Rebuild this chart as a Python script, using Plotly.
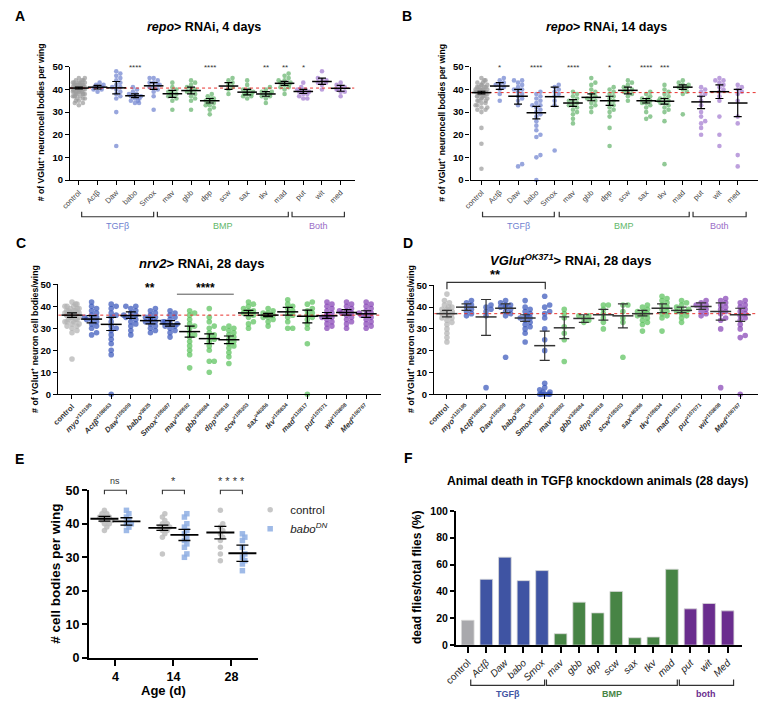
import plotly.graph_objects as go

W, H = 760, 707
FONT = "Arial, Liberation Sans, Helvetica, sans-serif"

# ----------------------------- data -----------------------------
AB_labels = ['control', 'Actβ', 'Daw', 'babo', 'Smox', 'mav', 'gbb', 'dpp', 'scw',
             'sax', 'tkv', 'mad', 'put', 'wit', 'med']
AB_group = ['c', 't', 't', 't', 't', 'b', 'b', 'b', 'b', 'b', 'b', 'b', 'p', 'p', 'p']

A_points = [
    [33, 34, 34, 35, 35, 36, 36, 36, 37, 37, 37, 37, 38, 38, 38, 38, 38, 39, 39, 39, 39, 39, 39,
     40, 40, 40, 40, 40, 40, 40, 41, 41, 41, 41, 41, 41, 41, 42, 42, 42, 42, 42, 42, 43, 43, 43,
     43, 43, 44, 44, 44, 45, 45],
    [39, 40, 40, 41, 41, 41, 42, 42, 43],
    [15, 30, 36, 37, 38, 39, 40, 41, 41, 42, 43, 44, 45, 46, 47, 48],
    [34, 34, 35, 35, 36, 36, 37, 37, 37, 38, 38, 39, 40, 41],
    [31, 37, 39, 40, 41, 41, 42, 42, 43, 43, 44, 45, 45],
    [31, 35, 36, 37, 37, 38, 38, 39, 39, 40, 41, 43],
    [31, 35, 36, 37, 38, 39, 39, 40, 40, 41, 42, 43, 44],
    [29, 31, 32, 33, 33, 34, 34, 35, 35, 36, 36, 37, 38],
    [38, 40, 41, 42, 43, 44, 45],
    [36, 37, 37, 38, 38, 38, 39, 39, 40, 40, 42, 44],
    [34, 36, 37, 37, 38, 38, 39, 39, 40, 41],
    [38, 40, 41, 41, 42, 42, 43, 43, 44, 44, 45, 46, 47],
    [36, 36, 37, 38, 38, 39, 39, 39, 40, 40, 41, 43],
    [40, 42, 43, 43, 44, 44, 45, 48],
    [37, 39, 39, 40, 40, 41, 41, 42, 43],
]
A_mean = [40.6, 41.0, 40.7, 37.2, 41.6, 38.1, 39.5, 35.0, 41.5, 38.8, 38.0, 42.7, 39.1, 43.5, 40.5]
A_lo = [40.2, 40.2, 38.0, 36.4, 40.0, 36.5, 38.0, 34.0, 40.0, 37.6, 37.0, 41.8, 38.2, 42.2, 39.2]
A_hi = [41.0, 41.8, 43.5, 38.0, 43.0, 39.6, 41.0, 36.0, 43.0, 40.0, 39.0, 43.6, 40.0, 45.0, 41.8]
A_stars = {3: '****', 7: '****', 10: '**', 11: '**', 12: '*'}

B_points = [
    [5, 16, 23, 30, 31, 31, 32, 32, 33, 33, 34, 34, 35, 35, 35, 36, 36, 36, 37, 37, 37, 37, 38, 38,
     38, 38, 38, 39, 39, 39, 39, 39, 39, 40, 40, 40, 40, 40, 41, 41, 41, 41, 42, 42, 42, 43, 43,
     44, 44, 45],
    [35, 38, 40, 41, 42, 42, 43, 44, 45],
    [6, 7, 33, 35, 36, 37, 38, 39, 40, 40, 41, 42, 43, 44, 44],
    [0, 10, 11, 19, 20, 22, 24, 26, 28, 29, 30, 31, 32, 33, 33, 34, 35, 36, 37, 38, 39],
    [13, 33, 35, 37, 38, 39, 40, 41, 42],
    [25, 27, 29, 30, 31, 32, 33, 33, 34, 35, 35, 36, 37, 38, 39],
    [30, 32, 33, 34, 35, 36, 36, 37, 38, 39, 40, 42, 43, 45],
    [15, 23, 28, 30, 31, 32, 33, 34, 35, 36, 37, 38, 39, 40, 41],
    [35, 37, 38, 39, 39, 40, 40, 41, 42, 43, 44],
    [27, 28, 30, 32, 33, 34, 34, 35, 35, 36, 36, 37, 38, 39],
    [7, 26, 30, 31, 32, 33, 34, 34, 35, 35, 36, 36, 37, 38, 39, 40, 42],
    [29, 38, 39, 40, 41, 41, 42, 42, 43, 44],
    [20, 23, 25, 26, 28, 30, 33, 35, 37, 38, 39, 40, 41],
    [15, 20, 28, 35, 37, 39, 40, 41, 42, 43, 44, 44, 45],
    [6, 11, 25, 28, 35, 38, 39, 40, 41, 42],
]
B_mean = [38.6, 41.5, 37.0, 29.7, 36.8, 34.0, 36.5, 35.0, 39.6, 35.0, 34.8, 41.0, 34.5, 39.0, 34.0]
B_lo = [38.0, 40.0, 33.5, 27.0, 32.5, 32.5, 35.0, 33.0, 38.0, 34.0, 33.5, 40.0, 31.5, 36.0, 28.0]
B_hi = [39.2, 43.0, 40.0, 32.5, 41.0, 35.5, 38.0, 37.0, 41.0, 36.0, 36.0, 42.0, 37.0, 42.0, 40.0]
B_stars = {1: '*', 3: '****', 5: '****', 7: '*', 9: '****', 10: '***'}

CD_labels = ['control', 'myo', 'Actβ', 'Daw', 'babo', 'Smox', 'mav', 'gbb', 'dpp', 'scw',
             'sax', 'tkv', 'mad', 'put', 'wit', 'Med']
CD_lines = ['', 'v110195', 'v108663', 'v105309', 'v3825', 'v105687', 'v330592', 'v330684',
            'v330518', 'v105303', 'v46356', 'v105834', 'v110517', 'v107071', 'v103808', 'v106767']
CD_group = ['c', 't', 't', 't', 't', 't', 'b', 'b', 'b', 'b', 'b', 'b', 'b', 'p', 'p', 'p']

C_points = [
    [16, 28, 29, 30, 31, 31, 32, 32, 33, 33, 33, 34, 34, 34, 35, 35, 35, 35, 36, 36, 36, 36, 36,
     37, 37, 37, 37, 37, 38, 38, 38, 38, 39, 39, 39, 40, 40, 40, 41, 41, 42],
    [27, 28, 30, 31, 32, 33, 34, 34, 35, 35, 36, 37, 38, 39, 40, 42],
    [0, 18, 20, 23, 25, 27, 29, 30, 31, 33, 35, 36, 37, 39, 40, 41],
    [27, 29, 31, 32, 33, 34, 35, 35, 36, 36, 37, 38, 39, 40, 40],
    [28, 29, 30, 31, 32, 33, 33, 34, 34, 35, 35, 36, 37, 38, 39],
    [26, 28, 29, 30, 31, 31, 32, 32, 33, 33, 34, 35, 36, 37, 38],
    [12, 18, 20, 22, 24, 26, 27, 28, 30, 31, 32, 34, 36, 37, 38],
    [10, 15, 15, 20, 22, 24, 25, 26, 27, 28, 30, 31, 33, 35, 39],
    [14, 17, 19, 21, 22, 23, 24, 25, 26, 27, 28, 29, 30, 30, 31],
    [30, 32, 33, 35, 36, 37, 37, 38, 38, 39, 40, 41, 42],
    [31, 33, 34, 35, 35, 36, 36, 37, 37, 38, 39],
    [30, 30, 33, 35, 36, 37, 38, 39, 40, 41, 43],
    [0, 23, 30, 32, 34, 35, 36, 37, 38, 39, 41, 42],
    [30, 31, 32, 33, 34, 35, 35, 36, 36, 37, 38, 39, 40, 41, 42],
    [30, 32, 33, 34, 35, 36, 37, 37, 38, 38, 39, 40, 41, 42],
    [30, 31, 32, 33, 34, 35, 36, 36, 37, 37, 38, 39, 40, 41, 42],
]
C_mean = [36.0, 34.2, 31.8, 35.8, 33.5, 32.0, 28.5, 25.3, 24.8, 37.0, 36.0, 37.5, 35.5, 35.7, 37.2, 36.6]
C_lo = [35.0, 32.5, 29.0, 34.5, 32.0, 31.0, 26.0, 23.0, 23.0, 35.8, 35.3, 36.0, 32.5, 34.5, 36.0, 35.0]
C_hi = [37.0, 35.8, 35.0, 37.5, 35.0, 33.5, 31.0, 27.5, 26.5, 38.2, 36.8, 39.5, 38.3, 37.2, 38.5, 38.0]

D_points = [
    [24, 26, 28, 30, 32, 33, 34, 35, 35, 36, 36, 37, 37, 38, 38, 38, 39, 39, 40, 40, 41, 42, 43, 46],
    [36, 37, 38, 39, 40, 41, 42, 43],
    [3, 36, 38, 39, 40, 41],
    [17, 36, 37, 38, 39, 40, 40, 41, 41, 42, 43],
    [24, 28, 30, 31, 32, 33, 34, 35, 35, 36, 36, 37, 38, 39, 40, 43],
    [0, 0, 0, 0, 0, 1, 1, 2, 3, 5, 20, 25, 30, 35, 37, 38, 40, 41, 45],
    [15, 25, 28, 31, 35, 37, 39],
    [33, 34, 35, 36, 36],
    [30, 33, 35, 37, 39, 41, 41],
    [17, 33, 35, 38, 41, 41],
    [29, 32, 33, 34, 35, 36, 36, 37, 37, 38, 38, 39, 40, 41],
    [29, 35, 36, 37, 38, 39, 40, 41, 42, 43, 44, 45],
    [33, 35, 36, 37, 38, 38, 39, 39, 40, 41, 42, 43],
    [36, 37, 38, 39, 40, 41, 41, 42, 43],
    [3, 30, 34, 35, 37, 38, 39, 40, 41, 42, 43, 44],
    [0, 26, 27, 30, 32, 34, 35, 36, 37, 38, 39, 40, 41, 42, 43],
]
D_mean = [37.0, 40.0, 35.5, 39.5, 35.0, 22.3, 30.5, 34.8, 36.5, 36.0, 37.0, 39.5, 38.5, 40.3, 38.0, 36.5]
D_lo = [35.5, 38.5, 27.0, 37.5, 33.5, 15.5, 25.5, 33.0, 34.0, 30.5, 36.0, 37.5, 37.5, 39.0, 34.0, 33.5]
D_hi = [38.5, 41.5, 43.5, 41.5, 36.5, 29.0, 35.5, 36.5, 39.0, 41.5, 38.5, 41.5, 40.0, 42.0, 42.0, 39.5]

E_ages = ['4', '14', '28']
E_control = [
    [38, 39, 40, 40, 41, 41, 41, 42, 42, 42, 43, 43, 44],
    [31, 36, 37, 38, 38, 39, 39, 39, 40, 40, 41, 42, 43],
    [29, 31, 33, 35, 36, 37, 38, 39, 40, 44],
]
E_babo = [
    [38, 39, 40, 40, 41, 42, 43, 44],
    [30, 31, 33, 34, 35, 36, 37, 38, 39, 40, 42, 43],
    [26, 28, 29, 30, 31, 33, 35, 36, 37],
]
E_control_mean = [41.5, 38.8, 37.4]
E_control_lo = [40.8, 38.0, 35.5]
E_control_hi = [42.2, 39.6, 39.2]
E_babo_mean = [40.7, 36.7, 31.2]
E_babo_lo = [39.6, 35.0, 28.8]
E_babo_hi = [41.8, 38.3, 33.6]
E_sig = ['ns', '*', '* * * *']

F_labels = ['control', 'Actβ', 'Daw', 'babo', 'Smox', 'mav', 'gbb', 'dpp', 'scw', 'sax',
            'tkv', 'mad', 'put', 'wit', 'Med']
F_values = [18.5, 49, 65.5, 48, 55.5, 8.5, 32, 24, 40, 5.5, 6, 56.5, 27, 31, 25.5]
F_group = ['c', 't', 't', 't', 't', 'b', 'b', 'b', 'b', 'b', 'b', 'b', 'p', 'p', 'p']

# ----------------------------- styling -----------------------------
COL_AB = {'c': '#9c9c9c', 't': '#7083d0', 'b': '#66b46e', 'p': '#a47bd0'}
COL_CD = {'c': '#b3b3b3', 't': '#3a57bb', 'b': '#5cc25d', 'p': '#8744b5'}
COL_F = {'c': '#a8a8ac', 't': '#3f54a3', 'b': '#478445', 'p': '#6a2d8e'}
COL_LBL = {'t': '#6f7fd0', 'b': '#62b86a', 'p': '#9a6cc6'}
COL_LBL_F = {'t': '#3f54a3', 'b': '#478445', 'p': '#6a2d8e'}
RED = '#e8322e'


class Panel:
    def __init__(self, n, xpx, ypx, xr, yr):
        self.n = n
        self.x0, self.x1 = xpx
        self.ytop, self.ybot = ypx
        self.xr, self.yr = xr, yr
        self.xs = (self.x1 - self.x0) / (xr[1] - xr[0])
        self.ys = (self.ybot - self.ytop) / (yr[1] - yr[0])
        self.xref = 'x' if n == 1 else 'x%d' % n
        self.yref = 'y' if n == 1 else 'y%d' % n

    def px(self, xv):
        return self.x0 + (xv - self.xr[0]) * self.xs

    def py(self, yv):
        return self.ybot - (yv - self.yr[0]) * self.ys


def fx(px):
    return px / W


def fy(py):
    return 1 - py / H


PA = Panel(1, (59, 348), (61, 176.5), (-0.47, 14.74), (0, 50))
PB = Panel(2, (466, 758), (61, 176.5), (-0.59, 15.11), (0, 50))
PC = Panel(3, (47, 375), (283, 395), (-0.70, 15.76), (0, 50))
PD = Panel(4, (429, 758), (284, 395), (-0.65, 15.91), (0, 50))
PE = Panel(5, (78, 250), (493, 664), (-0.46, 2.46), (0, 50))
PF = Panel(6, (451, 742), (514, 651), (-0.64, 14.79), (0, 100))


def swarm(vals, xs, ys, d, maxw):
    placed = []
    out = []
    for v in sorted(vals):
        y = v * ys
        chosen = None
        for k in range(80):
            off = ((k + 1) // 2) * (d * 0.45) * (1 if k % 2 else -1)
            if abs(off) > maxw:
                break
            if all((off - a) ** 2 + (y - b) ** 2 >= (d * 0.7) ** 2 for a, b in placed):
                chosen = off
                break
        if chosen is None:
            chosen = ((len(placed) * 5) % 9 - 4) / 4.0 * maxw
        placed.append((chosen, y))
        out.append((v, chosen / xs))
    return out


fig = go.Figure()
shapes = []
ann = []
layout_axes = {}


def ax_key(p, a):
    return ('%saxis' % a) if p.n == 1 else ('%saxis%d' % (a, p.n))


def set_axes(p, xtickvals, xticktext, ytickvals, xfont, yfont, lw=1.4, xangle=-45):
    layout_axes[ax_key(p, 'x')] = dict(
        domain=[fx(p.x0), fx(p.x1)], range=list(p.xr), anchor=p.yref,
        showline=True, linecolor='black', linewidth=lw, showgrid=False, zeroline=False,
        ticks='outside', ticklen=4, tickwidth=lw * 0.9, tickcolor='black',
        tickvals=xtickvals, ticktext=xticktext, tickangle=xangle, tickfont=xfont,
        fixedrange=True)
    layout_axes[ax_key(p, 'y')] = dict(
        domain=[fy(p.ybot), fy(p.ytop)], range=list(p.yr), anchor=p.xref,
        showline=True, linecolor='black', linewidth=lw, showgrid=False, zeroline=False,
        ticks='outside', ticklen=4, tickwidth=lw * 0.9, tickcolor='black',
        tickvals=ytickvals, ticktext=['<b>%d</b>' % v for v in ytickvals], tickfont=yfont,
        fixedrange=True)


def dot_panel(p, points, means, lo, hi, groups, colors, d, mean_w, cap_w, bar_col, spread=0.36):
    xs, ys, cs = [], [], []
    for i, vals in enumerate(points):
        for v, off in swarm(vals, p.xs, p.ys, d, spread * p.xs):
            xs.append(i + off)
            ys.append(v)
            cs.append(colors[groups[i]])
    fig.add_trace(go.Scatter(x=xs, y=ys, mode='markers', xaxis=p.xref, yaxis=p.yref,
                             marker=dict(size=d, color=cs, opacity=0.72, line=dict(width=0)),
                             cliponaxis=False, showlegend=False, hoverinfo='skip'))
    fig.add_trace(go.Scatter(x=list(p.xr), y=[means[0], means[0]], mode='lines',
                             xaxis=p.xref, yaxis=p.yref, showlegend=False, hoverinfo='skip',
                             line=dict(color=RED, width=1, dash='dot')))
    idx = list(range(len(means)))
    fig.add_trace(go.Scatter(
        x=idx, y=means, mode='markers', xaxis=p.xref, yaxis=p.yref, showlegend=False,
        marker=dict(symbol='line-ew', size=mean_w, line=dict(width=1.5, color=bar_col)),
        error_y=dict(type='data', symmetric=False,
                     array=[h - m for h, m in zip(hi, means)],
                     arrayminus=[m - l for m, l in zip(means, lo)],
                     color=bar_col, thickness=1.2, width=cap_w),
        cliponaxis=False, hoverinfo='skip'))


def bracket(p, a, b, ypx, label, color, size, bold=False, drop=5):
    xa, xb = p.px(a), p.px(b)
    shapes.append(dict(type='path', xref='paper', yref='paper',
                       path='M %f,%f L %f,%f L %f,%f L %f,%f' % (
                           fx(xa), fy(ypx - drop), fx(xa), fy(ypx), fx(xb), fy(ypx),
                           fx(xb), fy(ypx - drop)),
                       line=dict(color='#333', width=1.2)))
    txt = '<b>%s</b>' % label if bold else label
    ann.append(dict(x=fx((xa + xb) / 2), y=fy(ypx + 2), xref='paper', yref='paper',
                    text=txt, showarrow=False, yanchor='top', xanchor='center',
                    font=dict(size=size, color=color, family=FONT)))


def text(xpx, ypx, t, size, color='black', angle=0, xanchor='center', yanchor='middle'):
    ann.append(dict(x=fx(xpx), y=fy(ypx), xref='paper', yref='paper', text=t,
                    showarrow=False, textangle=angle, xanchor=xanchor, yanchor=yanchor,
                    font=dict(size=size, color=color, family=FONT)))


yt50 = [0, 10, 20, 30, 40, 50]

# ---------------- Panel A & B ----------------
for p, pts, m, lo, hi, stars, title, brk in [
        (PA, A_points, A_mean, A_lo, A_hi, A_stars, '<b><i>repo</i>> RNAi, 4 days</b>',
         [(0.15, 4.0), (4.2, 11.2), (11.4, 14.2)]),
        (PB, B_points, B_mean, B_lo, B_hi, B_stars, '<b><i>repo</i>> RNAi, 14 days</b>',
         [(0.06, 3.98), (4.25, 11.35), (11.56, 14.46)])]:
    dot_panel(p, pts, m, lo, hi, AB_group, COL_AB, 4.6, 14, 4, 'black', spread=0.32)
    set_axes(p, list(range(len(AB_labels))), AB_labels, yt50,
             dict(size=7.6, color='#444', family=FONT), dict(size=9.5, color='black', family=FONT))
    for i, s in stars.items():
        text(p.px(i), p.py(50) + 1, s, 8, '#333')
    text((p.x0 + p.x1) / 2 - 8, 20, title, 12.5)
    text(p.x0 - 29, 118, '<b># of VGlut<sup>+</sup> neuroncell bodies per wing</b>', 8.6, angle=-90)
    for (a, b), g, lab in zip(brk, ['t', 'b', 'p'], ['TGFβ', 'BMP', 'Both']):
        bracket(p, a, b, 214, lab, COL_LBL[g], 9)

text(8, 9, '<b>A</b>', 14)
text(401, 9, '<b>B</b>', 14)

# ---------------- Panel C & D ----------------
cd_text = ['<b>control</b>'] + ['<b><i>%s</i><sup>%s</sup></b>' % (l, s)
                                 for l, s in zip(CD_labels[1:], CD_lines[1:])]
dot_panel(PC, C_points, C_mean, C_lo, C_hi, CD_group, COL_CD, 5.6, 15, 5, 'black')
dot_panel(PD, D_points, D_mean, D_lo, D_hi, CD_group, COL_CD, 5.6, 15, 5, '#333')
for p in (PC, PD):
    set_axes(p, list(range(len(CD_labels))), cd_text, yt50,
             dict(size=7.6, color='#333', family=FONT), dict(size=9.5, color='black', family=FONT))
    text(p.x0 - 24, 339, '<b># of VGlut<sup>+</sup> neuron cell bodies/wing</b>', 8.8, angle=-90)

text(193, 262, '<b><i>nrv2</i>> RNAi, 28 days</b>', 13)
text(567, 258, '<b><i>VGlut<sup>OK371</sup></i>> RNAi, 28 days</b>', 13)
text(9, 241, '<b>C</b>', 14)
text(402, 241, '<b>D</b>', 14)

# C significance
text(PC.px(4.0), 287, '<b>**</b>', 12)
text(PC.px(6.8), 287, '<b>****</b>', 12)
shapes.append(dict(type='line', xref='paper', yref='paper', x0=fx(PC.px(5.35)), x1=fx(PC.px(8.25)),
                   y0=fy(293), y1=fy(293), line=dict(color='#555', width=1)))
# D significance
shapes.append(dict(type='path', xref='paper', yref='paper',
                   path='M %f,%f L %f,%f L %f,%f L %f,%f' % (
                       fx(PD.px(0)), fy(288), fx(PD.px(0)), fy(281), fx(PD.px(5.03)), fy(281),
                       fx(PD.px(5.03)), fy(288)),
                   line=dict(color='#333', width=1.2)))
text(PD.px(2.5), 273, '<b>**</b>', 13)

# ---------------- Panel E ----------------
OFF = 0.19
for k, (pts_list, mean, lo, hi, col, sym, name) in enumerate([
        (E_control, E_control_mean, E_control_lo, E_control_hi, '#bdbdbd', 'circle', 'control'),
        (E_babo, E_babo_mean, E_babo_lo, E_babo_hi, '#8eaee3', 'square', '<i>babo<sup>DN</sup></i>')]):
    sign = -1 if k == 0 else 1
    xs, ys = [], []
    for i, vals in enumerate(pts_list):
        for v, off in swarm(vals, PE.xs, PE.ys, 5.5, 0.14 * PE.xs):
            xs.append(i + sign * OFF + off)
            ys.append(v)
    fig.add_trace(go.Scatter(x=xs, y=ys, mode='markers', xaxis='x5', yaxis='y5', name=name,
                             marker=dict(size=5.5, color=col, symbol=sym, opacity=0.85),
                             cliponaxis=False, showlegend=True, hoverinfo='skip'))
    fig.add_trace(go.Scatter(
        x=[i + sign * OFF for i in range(3)], y=mean, mode='markers', xaxis='x5', yaxis='y5',
        showlegend=False, hoverinfo='skip',
        marker=dict(symbol='line-ew', size=20, line=dict(width=1.8, color='black')),
        error_y=dict(type='data', symmetric=False, array=[h - m for h, m in zip(hi, mean)],
                     arrayminus=[m - l for m, l in zip(mean, lo)], color='black',
                     thickness=1.3, width=6)))
set_axes(PE, [0, 1, 2], ['<b>%s</b>' % a for a in E_ages], yt50,
         dict(size=12.5, color='black', family=FONT), dict(size=12.5, color='black', family=FONT),
         lw=1.8, xangle=0)
layout_axes['yaxis5']['ticklen'] = 5
layout_axes['xaxis5']['ticklen'] = 6
for i, s in enumerate(E_sig):
    xa, xb = PE.px(i - OFF), PE.px(i + OFF)
    shapes.append(dict(type='path', xref='paper', yref='paper',
                       path='M %f,%f L %f,%f L %f,%f L %f,%f' % (
                           fx(xa), fy(497), fx(xa), fy(493), fx(xb), fy(493), fx(xb), fy(497)),
                       line=dict(color='#333', width=1.1)))
    text((xa + xb) / 2, 484, s, 9 if s == 'ns' else 11, '#333')
text(154, 697, '<b>Age (d)</b>', 13)
text(44, 578, '<b># cell bodies per wing</b>', 13.5, angle=-90)
text(8, 461, '<b>E</b>', 14)

# ---------------- Panel F ----------------
fig.add_trace(go.Bar(x=list(range(len(F_values))), y=F_values, xaxis='x6', yaxis='y6',
                     marker=dict(color=[COL_F[g] for g in F_group], line=dict(width=0.8, color='#d8d8d8')),
                     width=0.68, showlegend=False, hoverinfo='skip'))
f_text = ['control'] + ['<i>%s</i>' % l for l in F_labels[1:]]
set_axes(PF, list(range(len(F_labels))), f_text, [0, 20, 40, 60, 80, 100],
         dict(size=10, color='#222', family=FONT), dict(size=10.5, color='black', family=FONT),
         lw=1.8)
layout_axes['xaxis6']['ticklen'] = 6
for (a, b), g, lab in zip([(0.16, 4.14), (4.24, 11.29), (11.4, 14.32)], ['t', 'b', 'p'],
                          ['TGFβ', 'BMP', 'both']):
    bracket(PF, a, b, 692, lab, COL_LBL_F[g], 9, bold=True, drop=6)
text(595, 484, '<b>Animal death in TGFβ knockdown animals (28 days)</b>', 12.2)
text(412, 582, '<b>dead flies/total flies (%)</b>', 12, angle=-90)
text(403, 460, '<b>F</b>', 14)

fig.update_layout(
    width=W, height=H, margin=dict(l=0, r=0, t=0, b=0),
    paper_bgcolor='white', plot_bgcolor='white',
    font=dict(family=FONT, color='black'),
    shapes=shapes, annotations=ann,
    legend=dict(x=fx(242), y=fy(498), xanchor='left', yanchor='top',
                font=dict(size=11.5, family=FONT, color='#222'), bgcolor='rgba(0,0,0,0)',
                tracegroupgap=2, itemsizing='trace'),
    bargap=0.3,
    **layout_axes)

fig.write_html('out.html', config={'displayModeBar': False},
               post_script="document.body.style.margin='0px';document.body.style.padding='0px';"
                           "document.body.style.overflow='hidden';")
